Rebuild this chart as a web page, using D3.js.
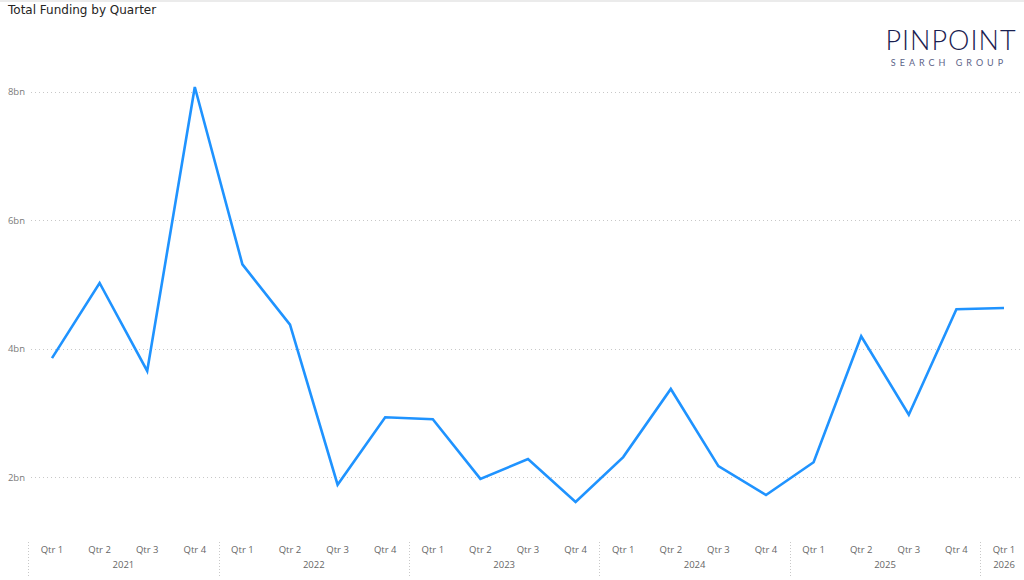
<!DOCTYPE html>
<html><head><meta charset="utf-8">
<script src="https://cdn.jsdelivr.net/npm/d3@7"></script>
<style>body{margin:0;background:#fff;}svg{display:block;}</style>
</head><body>
<svg id="c" width="1024" height="580"></svg>
<script>
const years = ["2021","2021","2021","2021","2022","2022","2022","2022","2023","2023","2023","2023","2024","2024","2024","2024","2025","2025","2025","2025","2026"];
const quarters = ["Qtr 1","Qtr 2","Qtr 3","Qtr 4","Qtr 1","Qtr 2","Qtr 3","Qtr 4","Qtr 1","Qtr 2","Qtr 3","Qtr 4","Qtr 1","Qtr 2","Qtr 3","Qtr 4","Qtr 1","Qtr 2","Qtr 3","Qtr 4","Qtr 1"];
const funding = [3.85,5.02,3.65,8.07,5.31,4.37,1.88,2.93,2.90,1.97,2.28,1.61,2.31,3.37,2.17,1.72,2.23,4.19,2.97,4.61,4.63];
const yTicks = [2,4,6,8];

const svg = d3.select("#c");
const font = "'Open Sans','Noto Sans',sans-serif";
svg.append("rect").attr("x",0).attr("y",0).attr("width",1024).attr("height",2).attr("fill","#ebebeb");

const keys = d3.range(funding.length);
const x = d3.scalePoint().domain(keys).range([52,1004]);
const step = x.step();
const y = d3.scaleLinear().domain([0,8]).range([605.5,91.5]);

// gridlines
svg.append("g").selectAll("line").data(yTicks).join("line")
  .attr("x1",31).attr("x2",1020)
  .attr("y1",d=>Math.round(y(d))+0.5).attr("y2",d=>Math.round(y(d))+0.5)
  .attr("stroke","#c8c8c8").attr("stroke-width",1).attr("stroke-dasharray","1,3");
svg.append("g").selectAll("text").data(yTicks).join("text")
  .attr("x",25).attr("y",d=>y(d)+3.5).attr("text-anchor","end")
  .attr("font-family",font).attr("font-size",9.5).attr("fill","#7a7a7a")
  .text(d=>d+"bn");

// x axis labels
svg.append("g").selectAll("text").data(keys).join("text")
  .attr("x",d=>x(d)).attr("y",553).attr("text-anchor","middle")
  .attr("font-family",font).attr("font-size",9.5).attr("fill","#666")
  .text(d=>quarters[d]);

// year groups
const yearList = Array.from(new Set(years));
const groups = yearList.map(yr=>{
  const idx = keys.filter(i=>years[i]===yr);
  return {yr, first: idx[0], last: idx[idx.length-1]};
});
svg.append("g").selectAll("text").data(groups).join("text")
  .attr("x",g=>(x(g.first)+x(g.last))/2).attr("y",568).attr("text-anchor","middle")
  .attr("font-family",font).attr("font-size",9.5).attr("fill","#666")
  .text(g=>g.yr);
const seps = groups.map(g=>x(g.first)-step/2);
svg.append("g").selectAll("line").data(seps).join("line")
  .attr("x1",d=>Math.round(d)+0.5).attr("x2",d=>Math.round(d)+0.5)
  .attr("y1",542).attr("y2",576)
  .attr("stroke","#c8c8c8").attr("stroke-dasharray","1,2");

// line
const line = d3.line().x((d,i)=>x(i)).y(d=>y(d));
svg.append("path").datum(funding).attr("d",line)
  .attr("fill","none").attr("stroke","#1f93ff").attr("stroke-width",2.6)
  .attr("stroke-linejoin","miter");

// title
svg.append("text").attr("x",8).attr("y",14)
  .attr("font-family","'DejaVu Sans','Noto Sans',sans-serif").attr("font-size",12).attr("fill","#252423")
  .text("Total Funding by Quarter");

// logo
svg.append("text").attr("x",951).attr("y",50).attr("text-anchor","middle")
  .attr("font-family","Lato,'Noto Sans',sans-serif").attr("font-weight",300).attr("font-size",27)
  .attr("letter-spacing",1).attr("fill","#1a2150").text("PINPOINT");
svg.append("text").attr("x",949).attr("y",66).attr("text-anchor","middle")
  .attr("font-family","Lato,'Noto Sans',sans-serif").attr("font-size",9)
  .attr("letter-spacing",4).attr("fill","#5d6488").text("SEARCH GROUP");
</script>
</body></html>
